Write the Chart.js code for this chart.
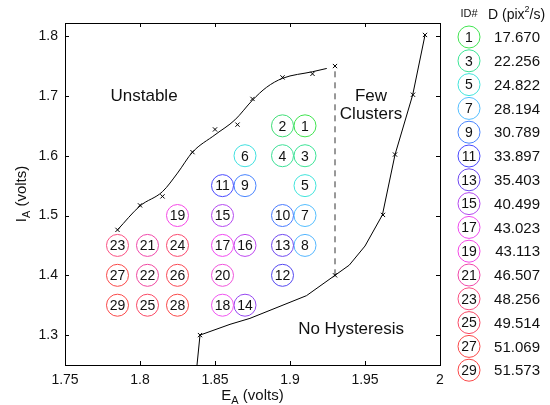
<!DOCTYPE html>
<html>
<head>
<meta charset="utf-8">
<script src="https://cdn.jsdelivr.net/npm/chart.js@4.4.1/dist/chart.umd.min.js"></script>
<style>
html,body{margin:0;padding:0;background:#fff;}
#wrap{width:550px;height:405px;position:relative;}
</style>
</head>
<body>
<div id="wrap"><canvas id="c" width="550" height="405"></canvas></div>
<script>
// ---- data ----
const circleIds = [1,2,3,4,5,6,7,8,9,10,11,12,13,14,15,16,17,18,19,20,21,22,23,24,25,26,27,28,29];
const circleE = [1.910,1.895,1.910,1.895,1.910,1.870,1.910,1.910,1.870,1.895,1.855,1.895,1.895,1.870,1.855,1.870,1.855,1.855,1.825,1.855,1.805,1.805,1.785,1.825,1.805,1.825,1.785,1.825,1.785];
const circleI = [1.65,1.65,1.60,1.60,1.55,1.60,1.50,1.45,1.55,1.50,1.55,1.40,1.45,1.35,1.50,1.45,1.45,1.35,1.50,1.40,1.45,1.40,1.45,1.45,1.35,1.40,1.40,1.35,1.35];
const circleColors = ['rgb(64,228,80)','rgb(62,222,118)','rgb(60,228,150)','rgb(60,224,150)','rgb(64,228,220)','rgb(64,224,224)','rgb(84,190,255)','rgb(84,182,255)','rgb(72,132,255)','rgb(72,122,255)','rgb(72,72,255)','rgb(84,72,240)','rgb(110,72,240)','rgb(150,72,240)','rgb(180,72,240)','rgb(190,72,240)','rgb(240,72,240)','rgb(240,84,240)','rgb(245,72,230)','rgb(240,84,220)','rgb(240,72,170)','rgb(240,72,160)','rgb(250,80,130)','rgb(250,72,110)','rgb(250,72,100)','rgb(250,72,84)','rgb(250,72,72)','rgb(250,72,72)','rgb(250,72,72)'];

const upperLineE = [1.785,1.800,1.815,1.825,1.835,1.850,1.8633,1.875,1.8844,1.895,1.915,1.9245];
const upperLineI = [1.476,1.516,1.540,1.571,1.606,1.635,1.660,1.693,1.7145,1.7295,1.7405,1.746];
const upperMarkE = [1.785,1.800,1.815,1.835,1.850,1.865,1.875,1.895,1.915,1.930];
const upperMarkI = [1.476,1.517,1.532,1.606,1.644,1.652,1.695,1.731,1.737,1.750];

const lowerLineE = [1.838,1.840,1.860,1.8733,1.911,1.930,1.9395,1.950,1.9616,1.970,1.9818,1.990];
const lowerLineI = [1.250,1.300,1.318,1.328,1.366,1.400,1.417,1.449,1.501,1.6017,1.7017,1.8017];
const lowerMarkE = [1.840,1.930,1.962,1.970,1.982,1.990];
const lowerMarkI = [1.300,1.400,1.501,1.602,1.702,1.802];

const dashE = [1.930,1.930];
const dashI = [1.400,1.750];

const legendIds = [1,3,5,7,9,11,13,15,17,19,21,23,25,27,29];
const legendD = ['17.670','22.256','24.822','28.194','30.789','33.897','35.403','40.499','43.023','43.113','46.507','48.256','49.514','51.069','51.573'];

const xTicks = [1.75,1.8,1.85,1.9,1.95,2];
const yTicks = [1.3,1.4,1.5,1.6,1.7,1.8];
const xTickLabels = ['1.75','1.8','1.85','1.9','1.95','2'];
const yTickLabels = ['1.3','1.4','1.5','1.6','1.7','1.8'];

const regionLabels = [
  {lines:['Unstable'], e:1.8027, i:1.699},
  {lines:['Few','Clusters'], e:1.954, i:1.699},
  {lines:['No Hysteresis'], e:1.9407, i:1.310}
];

// ---- build ----
const FONT = "'Liberation Sans', Arial, sans-serif";
const pts = (xs, ys) => xs.map((x, k) => ({x: x, y: ys[k]}));

const boxPlugin = {
  id: 'box',
  afterDatasetsDraw(chart) {
    const ctx = chart.ctx, a = chart.chartArea;
    const xs = chart.scales.x, ys = chart.scales.y;
    ctx.save();
    // circle labels
    const meta = chart.getDatasetMeta(5);
    ctx.fillStyle = '#111';
    ctx.font = '14px ' + FONT;
    ctx.textAlign = 'center';
    ctx.textBaseline = 'middle';
    meta.data.forEach((el, k) => {
      ctx.fillText(String(circleIds[k]), el.x, el.y + 1);
    });
    // region labels
    ctx.font = '17px ' + FONT;
    ctx.fillStyle = '#111';
    regionLabels.forEach(r => {
      const px = xs.getPixelForValue(r.e), py = ys.getPixelForValue(r.i);
      r.lines.forEach((t, k) => ctx.fillText(t, px, py + k * 18));
    });
    // frame
    ctx.strokeStyle = '#000';
    ctx.lineWidth = 1;
    ctx.strokeRect(Math.round(a.left) + 0.5, Math.round(a.top) + 0.5, Math.round(a.right - a.left), Math.round(a.bottom - a.top));
    // inward ticks
    const tl = 4;
    ctx.beginPath();
    xTicks.forEach(v => {
      const px = Math.round(xs.getPixelForValue(v)) + 0.5;
      ctx.moveTo(px, a.bottom); ctx.lineTo(px, a.bottom - tl);
      ctx.moveTo(px, a.top); ctx.lineTo(px, a.top + tl);
    });
    yTicks.forEach(v => {
      const py = Math.round(ys.getPixelForValue(v)) + 0.5;
      ctx.moveTo(a.left, py); ctx.lineTo(a.left + tl, py);
      ctx.moveTo(a.right, py); ctx.lineTo(a.right - tl, py);
    });
    ctx.stroke();
    ctx.restore();
  },
  afterDraw(chart) {
    const ctx = chart.ctx, a = chart.chartArea;
    ctx.save();
    ctx.fillStyle = '#111';
    ctx.textBaseline = 'alphabetic';
    ctx.textAlign = 'left';
    // x title: E_A (volts)
    const big = '15px ' + FONT, small = '11px ' + FONT;
    ctx.font = big; const wE = ctx.measureText('E').width; const wV = ctx.measureText(' (volts)').width;
    ctx.font = small; const wA = ctx.measureText('A').width;
    let x0 = (a.left + a.right) / 2 - (wE + wA + wV) / 2;
    const yb = 400;
    ctx.font = big; ctx.fillText('E', x0, yb);
    ctx.font = small; ctx.fillText('A', x0 + wE, yb + 4);
    ctx.font = big; ctx.fillText(' (volts)', x0 + wE + wA, yb);
    // y title: I_A (volts)
    ctx.save();
    ctx.translate(26, (a.top + a.bottom) / 2);
    ctx.rotate(-Math.PI / 2);
    ctx.font = big; const wI = ctx.measureText('I').width;
    ctx.font = small; const wA2 = ctx.measureText('A').width;
    let s0 = -(wI + wA2 + wV) / 2;
    ctx.font = big; ctx.fillText('I', s0, 0);
    ctx.font = small; ctx.fillText('A', s0 + wI, 4);
    ctx.font = big; ctx.fillText(' (volts)', s0 + wI + wA2, 0);
    ctx.restore();
    // legend
    const lx = 469, ly0 = 37, step = 23.8;
    ctx.textAlign = 'center';
    ctx.textBaseline = 'middle';
    ctx.font = '11px ' + FONT;
    ctx.fillText('ID#', lx, 14);
    ctx.textAlign = 'left';
    ctx.font = '14px ' + FONT;
    const dx = 488;
    ctx.fillText('D (pix', dx, 15);
    const w1 = ctx.measureText('D (pix').width;
    ctx.font = '9px ' + FONT;
    ctx.fillText('2', dx + w1, 10);
    const w2 = ctx.measureText('2').width;
    ctx.font = '14px ' + FONT;
    ctx.fillText('/s)', dx + w1 + w2, 15);
    legendIds.forEach((id, k) => {
      const cy = ly0 + k * step;
      ctx.beginPath();
      ctx.arc(lx, cy, 11, 0, Math.PI * 2);
      ctx.strokeStyle = circleColors[circleIds.indexOf(id)];
      ctx.lineWidth = 1;
      ctx.stroke();
      ctx.fillStyle = '#111';
      ctx.textAlign = 'center';
      ctx.font = '14px ' + FONT;
      ctx.fillText(String(id), lx, cy + 1);
      ctx.textAlign = 'right';
      ctx.font = '15px ' + FONT;
      ctx.fillText(legendD[k], 540, cy + 1);
    });
    ctx.restore();
  }
};

new Chart(document.getElementById('c'), {
  type: 'scatter',
  data: {
    datasets: [
      {data: pts(upperLineE, upperLineI), showLine: true, borderColor: '#000', borderWidth: 1, pointRadius: 0, cubicInterpolationMode: 'monotone', order: 6},
      {data: pts(upperMarkE, upperMarkI), showLine: false, pointStyle: 'crossRot', pointRadius: 3, borderColor: '#000', borderWidth: 1, order: 5},
      {data: pts(lowerLineE, lowerLineI), showLine: true, borderColor: '#000', borderWidth: 1, pointRadius: 0, tension: 0, order: 6},
      {data: pts(lowerMarkE, lowerMarkI), showLine: false, pointStyle: 'crossRot', pointRadius: 3, borderColor: '#000', borderWidth: 1, order: 5},
      {data: pts(dashE, dashI), showLine: true, borderColor: '#333', borderWidth: 1, borderDash: [6, 5], pointRadius: 0, order: 6},
      {data: pts(circleE, circleI), showLine: false, pointStyle: 'circle', pointRadius: 11, pointHoverRadius: 11,
       pointBackgroundColor: 'rgba(255,255,255,0)', pointBorderColor: circleColors, pointBorderWidth: 1, order: 1}
    ]
  },
  options: {
    responsive: false,
    animation: false,
    events: [],
    layout: {padding: {left: 0, top: 23, right: 110, bottom: 0}},
    plugins: {legend: {display: false}, tooltip: {enabled: false}},
    scales: {
      x: {
        type: 'linear', min: 1.75, max: 2.0,
        afterFit(s) { s.height = 40; },
        afterBuildTicks(s) { s.ticks = xTicks.map(v => ({value: v})); },
        grid: {display: false, drawTicks: false},
        border: {display: false},
        ticks: {color: '#111', font: {family: FONT, size: 14}, padding: 7,
          callback: (v) => xTickLabels[xTicks.indexOf(v)] ?? ''}
      },
      y: {
        type: 'linear', min: 1.25, max: 1.822,
        afterFit(s) { s.width = 65; },
        afterBuildTicks(s) { s.ticks = yTicks.map(v => ({value: v})); },
        grid: {display: false, drawTicks: false},
        border: {display: false},
        ticks: {color: '#111', font: {family: FONT, size: 14}, padding: 7,
          callback: (v) => yTickLabels[yTicks.indexOf(v)] ?? ''}
      }
    }
  },
  plugins: [boxPlugin]
});
</script>
</body>
</html>
